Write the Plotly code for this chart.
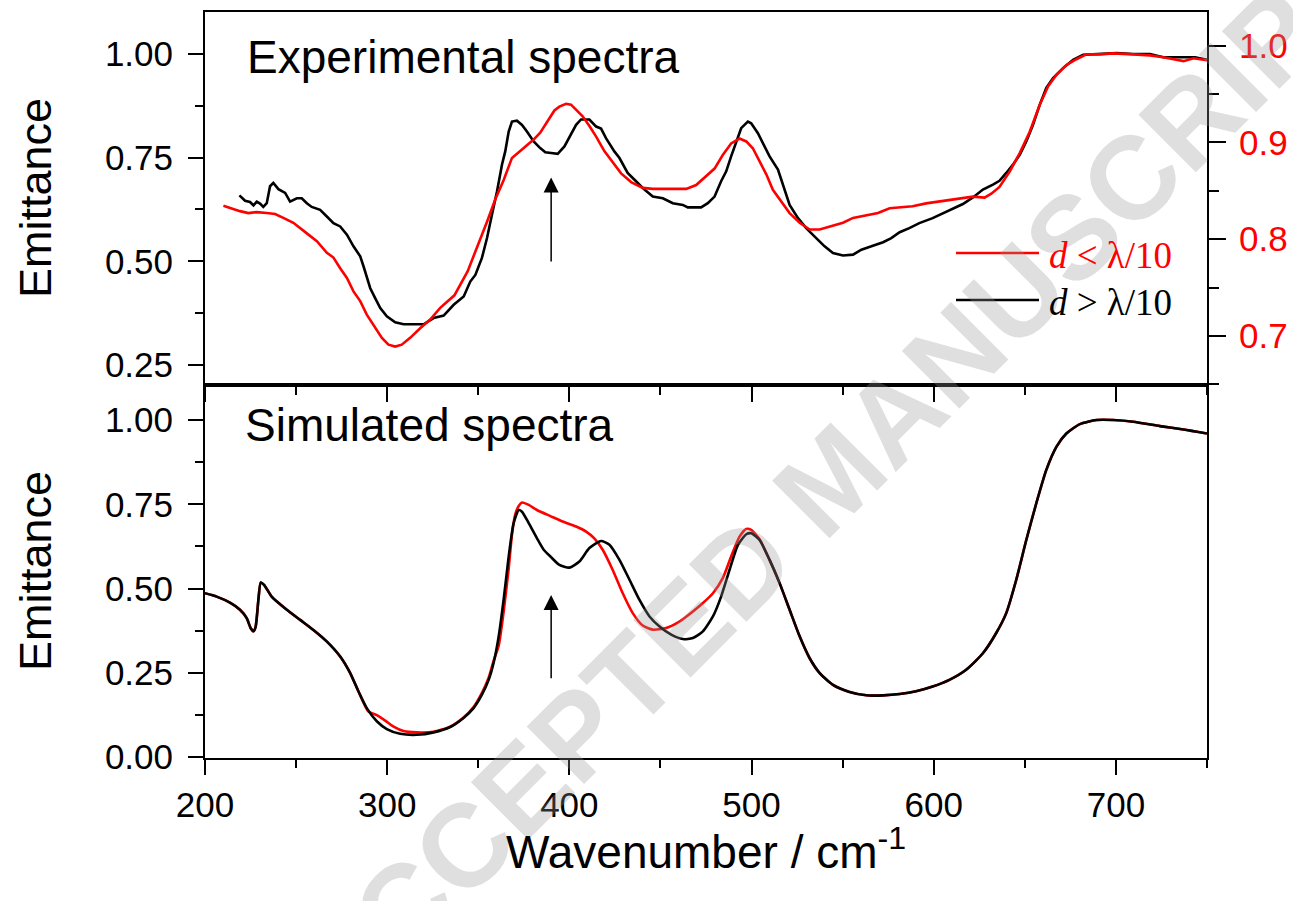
import plotly.graph_objects as go

# ---------------- data ----------------
# Experimental spectra (top panel)
exp_black_x = [218.9, 222.0, 224.7, 226.6, 228.4, 230.2, 232.0, 233.9, 235.7, 237.5, 240.3, 244.0, 246.7, 250.4,
               253.1, 255.9, 258.6, 263.2, 266.9, 270.5, 274.2, 277.9, 281.5, 285.2, 287.0, 288.8, 290.7, 293.4,
               296.2, 299.8, 304.4, 309.0, 314.5, 320.0, 325.5, 331.0, 336.5, 342.0, 345.6, 348.4, 352.0, 354.8,
               357.5, 360.3, 363.0, 364.8, 366.7, 368.5, 371.2, 374.0, 376.7, 380.4, 384.0, 386.8, 390.0, 393.6,
               397.3, 400.9, 403.7, 406.4, 411.0, 414.7, 417.4, 420.1, 424.7, 427.5, 432.0, 436.6, 441.2, 445.8,
               451.3, 456.8, 462.3, 465.0, 472.3, 476.0, 479.7, 483.3, 486.1, 488.8, 491.6, 494.3, 498.0, 499.8,
               503.5, 506.2, 509.9, 514.5, 517.2, 520.9, 525.5, 530.0, 535.5, 540.1, 544.7, 550.2, 555.7, 560.3,
               565.8, 572.2, 576.7, 581.3, 586.6, 592.1, 599.4, 605.0, 610.5, 616.0, 621.5, 627.0, 632.5, 636.1,
               639.8, 643.5, 647.2, 650.8, 654.5, 658.2, 661.8, 665.5, 671.0, 676.5, 682.0, 691.2, 700.4, 709.5,
               718.7, 726.0, 737.1, 743.5, 750.0]
exp_black_y = [0.659, 0.646, 0.643, 0.635, 0.644, 0.639, 0.631, 0.640, 0.681, 0.689, 0.674, 0.665, 0.644, 0.652,
               0.652, 0.640, 0.631, 0.624, 0.608, 0.592, 0.584, 0.564, 0.536, 0.512, 0.488, 0.459, 0.435, 0.411,
               0.387, 0.367, 0.353, 0.348, 0.348, 0.348, 0.363, 0.369, 0.395, 0.415, 0.451, 0.467, 0.508, 0.556,
               0.612, 0.669, 0.733, 0.765, 0.813, 0.837, 0.839, 0.829, 0.813, 0.789, 0.773, 0.763, 0.761, 0.759,
               0.777, 0.805, 0.829, 0.842, 0.842, 0.825, 0.820, 0.797, 0.765, 0.749, 0.713, 0.693, 0.673, 0.656,
               0.652, 0.640, 0.636, 0.630, 0.630, 0.640, 0.656, 0.693, 0.717, 0.753, 0.789, 0.821, 0.837, 0.833,
               0.809, 0.785, 0.753, 0.721, 0.685, 0.636, 0.604, 0.580, 0.556, 0.536, 0.520, 0.514, 0.516, 0.528,
               0.536, 0.546, 0.556, 0.570, 0.580, 0.592, 0.604, 0.616, 0.627, 0.638, 0.654, 0.673, 0.685, 0.694,
               0.713, 0.733, 0.757, 0.789, 0.829, 0.878, 0.918, 0.942, 0.966, 0.986, 0.998, 1.000, 1.002, 1.000,
               1.000, 0.992, 0.992, 0.992, 0.986]

exp_red_x = [210.1, 213.7, 219.2, 223.8, 228.4, 233.9, 238.5, 243.0, 248.5, 255.9, 261.4, 266.9, 270.5, 274.2,
             277.9, 281.5, 285.2, 288.8, 292.5, 297.1, 300.7, 304.4, 308.0, 312.6, 318.1, 323.6, 329.1, 336.9,
             344.2, 349.3, 354.8, 359.3, 363.9, 368.5, 374.9, 380.4, 384.0, 389.6, 391.8, 394.5, 398.2, 400.9,
             403.7, 407.3, 411.0, 414.7, 419.2, 423.8, 428.4, 433.9, 440.3, 445.8, 453.1, 464.1, 469.6, 475.1,
             479.7, 484.2, 488.8, 493.4, 497.1, 500.7, 504.4, 508.1, 511.7, 516.3, 520.9, 526.4, 531.9, 537.4,
             542.9, 550.2, 555.7, 563.0, 569.4, 575.8, 581.3, 588.4, 595.8, 603.1, 612.3, 621.5, 627.9, 631.6,
             636.1, 641.7, 647.2, 652.7, 658.2, 662.8, 667.4, 672.8, 678.3, 683.8, 691.2, 698.5, 709.5, 718.7,
             726.0, 731.6, 737.1, 742.6, 750.0]
exp_red_y = [0.8345, 0.832, 0.829, 0.827, 0.828, 0.827, 0.826, 0.822, 0.817, 0.806, 0.798, 0.786, 0.781, 0.770,
             0.760, 0.746, 0.736, 0.722, 0.711, 0.698, 0.691, 0.689, 0.691, 0.698, 0.708, 0.717, 0.729, 0.742,
             0.767, 0.791, 0.818, 0.841, 0.861, 0.884, 0.894, 0.903, 0.910, 0.927, 0.933, 0.937, 0.940, 0.939,
             0.934, 0.927, 0.917, 0.906, 0.891, 0.879, 0.868, 0.859, 0.853, 0.852, 0.852, 0.852, 0.856, 0.865,
             0.873, 0.887, 0.899, 0.904, 0.901, 0.894, 0.880, 0.867, 0.851, 0.839, 0.827, 0.817, 0.810, 0.810,
             0.813, 0.817, 0.822, 0.825, 0.827, 0.832, 0.833, 0.834, 0.837, 0.839, 0.842, 0.844, 0.843, 0.847,
             0.854, 0.870, 0.889, 0.911, 0.939, 0.958, 0.970, 0.980, 0.986, 0.991, 0.991, 0.992, 0.991, 0.990,
             0.988, 0.986, 0.984, 0.987, 0.985]

# Simulated spectra (bottom panel)
sim_black_x = [200.0, 206.4, 213.7, 219.2, 222.9, 225.1, 226.6, 227.8, 229.3, 230.6, 232.4, 236.6, 244.9, 252.2,
               259.5, 266.8, 274.2, 279.7, 284.2, 288.8, 294.3, 299.8, 307.1, 316.3, 325.5, 334.6, 341.9, 347.4,
               352.0, 355.7, 358.4, 361.2, 363.9, 366.7, 369.4, 372.2, 374.0, 377.7, 382.2, 385.9, 389.6, 394.5,
               400.0, 405.5, 411.0, 417.4, 422.0, 427.5, 433.0, 438.5, 444.0, 449.5, 455.9, 462.3, 467.8, 473.3,
               478.8, 483.3, 487.9, 492.5, 497.1, 499.8, 504.4, 509.9, 515.4, 520.9, 526.4, 531.9, 537.4, 544.7,
               553.8, 563.0, 572.2, 581.3, 590.3, 599.4, 608.6, 617.8, 627.0, 634.3, 639.8, 645.3, 650.8, 656.3,
               661.8, 667.4, 672.8, 680.2, 689.4, 698.5, 709.5, 724.2, 737.1, 750.0]
sim_black_y = [0.486, 0.476, 0.458, 0.437, 0.412, 0.382, 0.373, 0.387, 0.466, 0.518, 0.511, 0.476, 0.437, 0.407,
               0.377, 0.343, 0.298, 0.249, 0.195, 0.145, 0.106, 0.083, 0.069, 0.066, 0.073, 0.089, 0.116, 0.145,
               0.185, 0.229, 0.279, 0.358, 0.466, 0.595, 0.694, 0.733, 0.728, 0.694, 0.649, 0.615, 0.595, 0.570,
               0.562, 0.580, 0.620, 0.641, 0.630, 0.585, 0.526, 0.466, 0.417, 0.387, 0.363, 0.350, 0.353, 0.373,
               0.417, 0.476, 0.555, 0.629, 0.661, 0.664, 0.644, 0.585, 0.516, 0.437, 0.358, 0.293, 0.249, 0.214,
               0.193, 0.183, 0.183, 0.187, 0.195, 0.209, 0.229, 0.259, 0.308, 0.368, 0.427, 0.526, 0.644, 0.753,
               0.852, 0.921, 0.960, 0.988, 1.000, 1.000, 0.995, 0.982, 0.972, 0.960]

sim_red_x = [200.0, 206.4, 213.7, 219.2, 222.9, 225.1, 226.6, 227.8, 229.3, 230.6, 232.4, 236.6, 244.9, 252.2,
             259.5, 266.8, 274.2, 279.7, 284.2, 289.7, 294.3, 298.9, 303.5, 309.0, 316.3, 325.5, 334.6, 341.9,
             347.4, 352.0, 355.7, 358.4, 361.2, 363.9, 366.7, 368.5, 370.3, 372.2, 374.0, 377.7, 382.2, 389.6,
             396.3, 403.7, 409.2, 413.7, 418.3, 423.8, 429.3, 434.8, 440.3, 445.8, 453.1, 460.4, 467.8, 473.3,
             478.8, 484.2, 488.8, 493.4, 497.1, 499.8, 504.4, 509.9, 515.4, 520.9, 526.4, 531.9, 537.4, 544.7,
             553.8, 563.0, 572.2, 581.3, 590.3, 599.4, 608.6, 617.8, 627.0, 634.3, 639.8, 645.3, 650.8, 656.3,
             661.8, 667.4, 672.8, 680.2, 689.4, 698.5, 709.5, 724.2, 737.1, 750.0]
sim_red_y = [0.486, 0.476, 0.458, 0.437, 0.412, 0.382, 0.373, 0.387, 0.466, 0.518, 0.511, 0.476, 0.437, 0.407,
             0.377, 0.343, 0.298, 0.249, 0.195, 0.135, 0.124, 0.108, 0.090, 0.077, 0.073, 0.075, 0.090, 0.117,
             0.148, 0.190, 0.235, 0.285, 0.330, 0.430, 0.560, 0.660, 0.720, 0.745, 0.755, 0.748, 0.733, 0.715,
             0.699, 0.684, 0.669, 0.649, 0.615, 0.555, 0.486, 0.427, 0.390, 0.378, 0.383, 0.402, 0.432, 0.457,
             0.486, 0.531, 0.595, 0.654, 0.677, 0.674, 0.646, 0.585, 0.516, 0.437, 0.358, 0.293, 0.249, 0.214,
             0.193, 0.183, 0.183, 0.187, 0.195, 0.209, 0.229, 0.259, 0.308, 0.368, 0.427, 0.526, 0.644, 0.753,
             0.852, 0.921, 0.960, 0.988, 1.000, 1.000, 0.995, 0.982, 0.972, 0.960]

legend_labels = ["<i>d</i> &lt; λ/10", "<i>d</i> &gt; λ/10"]
panel_titles = ["Experimental spectra", "Simulated spectra"]
arrow_x = 390

# ---------------- geometry helpers ----------------
W, H = 1293, 901
L, R, T, B = 205, 86, 12, 143
PW, PH = W - L - R, H - T - B


def px(xp):
    return (xp - L) / PW


def py(yp):
    return (H - B - yp) / PH


SANS = "Liberation Sans, Arial, Helvetica, sans-serif"
SERIF = "Liberation Serif, Times New Roman, serif"
RED = "#ff0000"

fig = go.Figure()
lw = 2.6
fig.add_trace(go.Scatter(x=sim_red_x, y=sim_red_y, mode="lines", xaxis="x", yaxis="y",
                         line=dict(color=RED, width=lw, shape="spline", smoothing=0.6), showlegend=False))
fig.add_trace(go.Scatter(x=sim_black_x, y=sim_black_y, mode="lines", xaxis="x", yaxis="y",
                         line=dict(color="black", width=lw, shape="spline", smoothing=0.6), showlegend=False))
fig.add_trace(go.Scatter(x=exp_black_x, y=exp_black_y, mode="lines", xaxis="x2", yaxis="y2",
                         line=dict(color="black", width=lw), showlegend=False))
fig.add_trace(go.Scatter(x=exp_red_x, y=exp_red_y, mode="lines", xaxis="x2", yaxis="y3",
                         line=dict(color=RED, width=lw), showlegend=False))

TF = 35
tickfont = dict(family=SANS, size=TF, color="black")
common = dict(showgrid=False, zeroline=False, showline=True, linewidth=2, linecolor="black",
              ticks="outside", tickwidth=2, tickcolor="black", ticklen=15, automargin=False)

xmin = dict(dtick=50, tick0=0, ticks="outside", ticklen=8, tickwidth=2, tickcolor="black")
fig.update_layout(
    width=W, height=H, autosize=False,
    margin=dict(l=L, r=R, t=T, b=B, autoexpand=False),
    paper_bgcolor="white", plot_bgcolor="white",
    xaxis=dict(domain=[0, 1], range=[200, 750], anchor="y", dtick=100, tick0=0, mirror=True,
               tickfont=tickfont, minor=xmin, ticklabelstandoff=0, **common),
    xaxis2=dict(domain=[0, 1], range=[200, 750], anchor="y2", matches="x", dtick=100, tick0=0,
                mirror=True, showticklabels=False, minor=xmin, **common),
    yaxis=dict(domain=[0, 0.5], range=[-0.003, 1.104], anchor="x", dtick=0.25, tick0=0,
               tickformat=".2f", mirror=True, tickfont=tickfont, ticklabelstandoff=8,
               minor=dict(dtick=0.125, tick0=0, ticks="outside", ticklen=8, tickwidth=2, tickcolor="black"),
               **common),
    yaxis2=dict(domain=[0.5, 1], range=[0.2015, 1.1013], anchor="x2", dtick=0.25, tick0=0,
                tickformat=".2f", tickfont=tickfont, ticklabelstandoff=8,
                minor=dict(dtick=0.125, tick0=0, ticks="outside", ticklen=8, tickwidth=2, tickcolor="black"),
                **common),
    yaxis3=dict(overlaying="y2", side="right", anchor="x2", range=[0.6493, 1.0348], dtick=0.1, tick0=0,
                tickformat=".1f", tickfont=dict(family=SANS, size=TF, color=RED), ticklabelstandoff=6,
                minor=dict(dtick=0.05, tick0=0, ticks="outside", ticklen=10, tickwidth=2, tickcolor="black"),
                **{**common, "ticklen": 17}),
)

ann = []
# watermark
ann.append(dict(text="<b>ACCEPTED MANUSCRIPT</b>", xref="paper", yref="paper", x=px(832), y=py(478),
                xanchor="center", yanchor="middle", showarrow=False, textangle=-45,
                font=dict(family=SANS, size=118, color="rgba(150,150,150,0.30)")))
# panel titles
ann.append(dict(text=panel_titles[0], xref="paper", yref="paper", x=px(245), y=py(57.5),
                xanchor="left", yanchor="middle", showarrow=False, font=dict(family=SANS, size=46, color="black")))
ann.append(dict(text=panel_titles[1], xref="paper", yref="paper", x=px(243), y=py(425),
                xanchor="left", yanchor="middle", showarrow=False, font=dict(family=SANS, size=46, color="black")))
# axis titles
for yc in (198, 571):
    ann.append(dict(text="Emittance", xref="paper", yref="paper", x=px(35), y=py(yc),
                    xanchor="center", yanchor="middle", showarrow=False, textangle=-90,
                    font=dict(family=SANS, size=45, color="black")))
ann.append(dict(text="Wavenumber / cm<sup>-1</sup>", xref="paper", yref="paper", x=px(706), y=py(849),
                xanchor="center", yanchor="middle", showarrow=False,
                font=dict(family=SANS, size=46, color="black")))
# legend
ann.append(dict(text=legend_labels[0], xref="paper", yref="paper", x=px(1047), y=py(255),
                xanchor="left", yanchor="middle", showarrow=False, font=dict(family=SERIF, size=37, color=RED)))
ann.append(dict(text=legend_labels[1], xref="paper", yref="paper", x=px(1047), y=py(302),
                xanchor="left", yanchor="middle", showarrow=False, font=dict(family=SERIF, size=37, color="black")))
# arrows
ann.append(dict(x=arrow_x, y=0.702, xref="x2", yref="y2", ax=arrow_x, ay=0.496, axref="x2", ayref="y2",
                text="", showarrow=True, arrowhead=2, arrowsize=2.0, arrowwidth=1.5, arrowcolor="black"))
ann.append(dict(x=arrow_x, y=0.481, xref="x", yref="y", ax=arrow_x, ay=0.229, axref="x", ayref="y",
                text="", showarrow=True, arrowhead=2, arrowsize=2.0, arrowwidth=1.5, arrowcolor="black"))
fig.update_layout(annotations=ann)

fig.update_layout(shapes=[
    dict(type="line", xref="paper", yref="paper", x0=px(956), x1=px(1039), y0=py(253), y1=py(253),
         line=dict(color=RED, width=2.5)),
    dict(type="line", xref="paper", yref="paper", x0=px(956), x1=px(1039), y0=py(300), y1=py(300),
         line=dict(color="black", width=2.5)),
])

fig.write_html("out.html", config={"displayModeBar": False},
               post_script="document.body.style.margin='0';document.body.style.overflow='hidden';"
                           "document.documentElement.style.overflow='hidden';")
